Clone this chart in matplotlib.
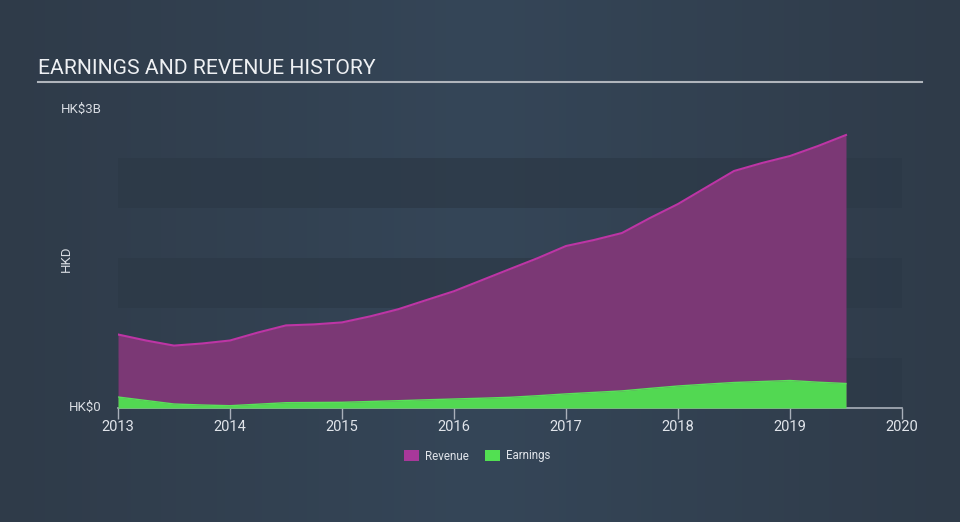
import matplotlib
matplotlib.use("Agg")
import matplotlib.pyplot as plt
import numpy as np
from matplotlib.patches import Patch

years = [2013.0, 2013.25, 2013.5, 2013.75, 2014.0, 2014.25, 2014.5, 2014.75, 2015.0,
         2015.25, 2015.5, 2015.75, 2016.0, 2016.25, 2016.5, 2016.75, 2017.0, 2017.25,
         2017.5, 2017.75, 2018.0, 2018.25, 2018.5, 2018.75, 2019.0, 2019.25, 2019.5]
revenue = [0.735, 0.675, 0.624, 0.645, 0.675, 0.755, 0.826, 0.836, 0.856,
           0.916, 0.987, 1.078, 1.168, 1.279, 1.390, 1.50, 1.62, 1.68,
           1.75, 1.90, 2.04, 2.205, 2.37, 2.45, 2.52, 2.62, 2.73]
earnings = [0.11, 0.075, 0.04, 0.03, 0.023, 0.038, 0.053, 0.055, 0.057,
            0.065, 0.073, 0.082, 0.09, 0.098, 0.107, 0.123, 0.141, 0.156,
            0.171, 0.196, 0.22, 0.238, 0.255, 0.265, 0.275, 0.258, 0.245]
xticks = [2013, 2014, 2015, 2016, 2017, 2018, 2019, 2020]

W, H = 960, 522
fig = plt.figure(figsize=(W/100, H/100), dpi=100)
plt.rcParams['font.family'] = ['Roboto', 'DejaVu Sans']

# background gradient
bg = fig.add_axes([0, 0, 1, 1], zorder=-10)
c_edge = np.array([0x2f, 0x3b, 0x49]) / 255
c_mid = np.array([0x35, 0x46, 0x58]) / 255
t = np.linspace(0, 1, 256)
w = 1 - np.abs(t - 0.5) * 2
grad = c_edge[None, :] * (1 - w[:, None]) + c_mid[None, :] * w[:, None]
bg.imshow(grad[None, :, :], aspect='auto', extent=[0, 1, 0, 1])
bg.axis('off')

left, right = 118 / W, 902 / W
bottom, top = (H - 408) / H, (H - 108) / H
ax = fig.add_axes([left, bottom, right - left, top - bottom])
ax.patch.set_alpha(0)

band = '#2c3947'
for lo in [0, 1.0, 2.0]:
    ax.axhspan(lo, lo + 0.5, color=band, alpha=0.75, lw=0, zorder=0)

ax.fill_between(years, 0, revenue, color='#7b3875', lw=0, zorder=2)
ax.plot(years, revenue, color='#bd35a5', lw=1.5, zorder=3)
ax.fill_between(years, 0, earnings, color='#52d852', lw=0, zorder=4)
ax.plot(years, earnings, color='#5ae05a', lw=1, zorder=5)

ax.set_xlim(2013, 2020)
ax.set_ylim(0, 3)
ax.set_xticks(xticks)
ax.set_xticklabels([str(x) for x in xticks], fontsize=10.5)
ax.tick_params(axis='x', colors='#a9b0ba', length=8, width=1, pad=0.8, labelcolor='#e0e4ea')
ax.set_yticks([])
for s in ['top', 'right', 'left']:
    ax.spines[s].set_visible(False)
ax.spines['bottom'].set_color('#a9b0ba')
ax.spines['bottom'].set_linewidth(1.2)

fig.text(102 / W, 1 - 109 / H, 'HK$3B', color='#d8dce2', fontsize=9.5, ha='right', va='center')
fig.text(102 / W, 1 - 407 / H, 'HK$0', color='#d8dce2', fontsize=9.5, ha='right', va='center')
fig.text(66 / W, 1 - 259 / H, 'HKD', color='#d8dce2', fontsize=9.5, ha='center', va='center', rotation=90)

fig.text(38 / W, 1 - 68 / H, 'EARNINGS AND REVENUE HISTORY', color='#eef0f3', fontsize=15.2, ha='left', va='center')
fig.add_artist(plt.Line2D([38 / W, 922 / W], [1 - 82 / H, 1 - 82 / H], color='#b0b5bc', lw=1.5))

handles = [Patch(facecolor='#a8389a', edgecolor='none', label='Revenue'),
           Patch(facecolor='#52e052', edgecolor='none', label='Earnings')]
leg = fig.legend(handles=handles, loc='center', bbox_to_anchor=(477 / W, 1 - 456 / H), ncol=2,
                 frameon=False, fontsize=8.3, labelcolor='#e0e4ea', handlelength=1.3, handleheight=1.0,
                 columnspacing=1.4, handletextpad=0.5)

fig.savefig('out.png', dpi=100)
